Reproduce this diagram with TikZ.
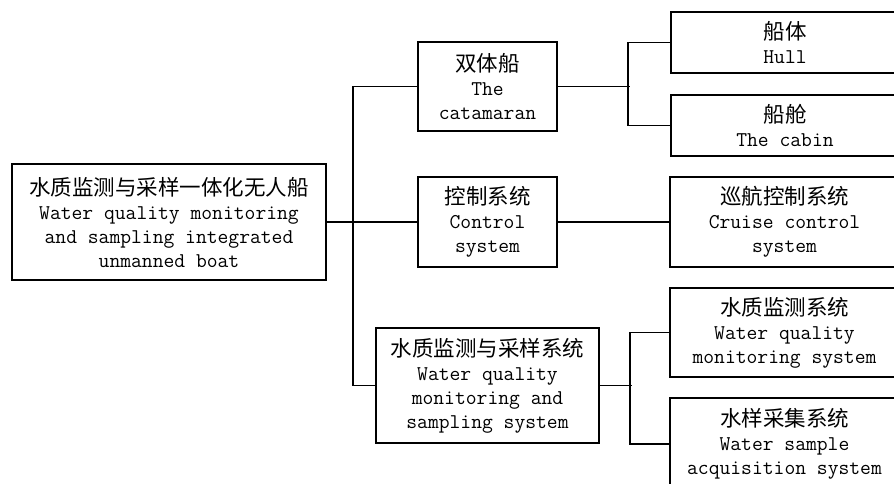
\documentclass[tikz,border=0pt]{standalone}
\usepackage{fontspec}
\newfontfamily\cjk{Noto Sans CJK SC}
\newcommand{\zh}[1]{{\cjk\fontsize{21.5pt}{24pt}\selectfont #1}}
\begin{document}
\begin{tikzpicture}[x=1pt,y=-1pt,
  box/.style={draw=black,line width=1.4pt,inner sep=0pt,align=center,
    font=\ttfamily\fontsize{21pt}{24pt}\selectfont},
  link/.style={draw=black,line width=1.7pt}]
\useasboundingbox (0,0) rectangle (894,483);
\fill[white] (0,0) rectangle (894,483);
\clip (0,0) rectangle (894,483);
% level 0
\node[box,minimum width=314pt,minimum height=116pt] (root) at (169,222)
  {\zh{水质监测与采样一体化无人船}\\Water quality monitoring\\and sampling integrated\\unmanned boat};
% level 1
\node[box,minimum width=139pt,minimum height=89pt] (cat) at (487.5,86.5)
  {\zh{双体船}\\The\\catamaran};
\node[box,minimum width=139pt,minimum height=90pt] (ctrl) at (487.5,222)
  {\zh{控制系统}\\Control\\system};
\node[box,minimum width=223pt,minimum height=115pt] (wqs) at (487.5,385.5)
  {\zh{水质监测与采样系统}\\Water quality\\monitoring and\\sampling system};
% level 2
\node[box,minimum width=228pt,minimum height=61pt] (hull) at (785,42.5)
  {\zh{船体}\\Hull};
\node[box,minimum width=228pt,minimum height=61pt] (cabin) at (785,125.5)
  {\zh{船舱}\\The cabin};
\node[box,minimum width=229pt,minimum height=90pt] (cruise) at (784.5,222)
  {\zh{巡航控制系统}\\Cruise control\\system};
\node[box,minimum width=229pt,minimum height=89pt] (wqm) at (784.5,332.5)
  {\zh{水质监测系统}\\Water quality\\monitoring system};
\node[box,minimum width=229pt,minimum height=92pt] (wsa) at (784.5,444)
  {\zh{水样采集系统}\\Water sample\\acquisition system};
% connectors
\draw[link] (root.east) -- (ctrl.west);
\draw[link] (cat.west) -- ++(-64,0) |- (wqs.west);
\draw[link] (ctrl.east) -- (cruise.west);
\draw[link] (cat.east) -- ++(72,0);
\draw[link] (hull.west) -- ++(-42,0) |- (cabin.west);
\draw[link] (wqs.east) -- ++(32,0);
\draw[link] (wqm.west) -- ++(-39,0) |- (wsa.west);
\end{tikzpicture}
\end{document}
